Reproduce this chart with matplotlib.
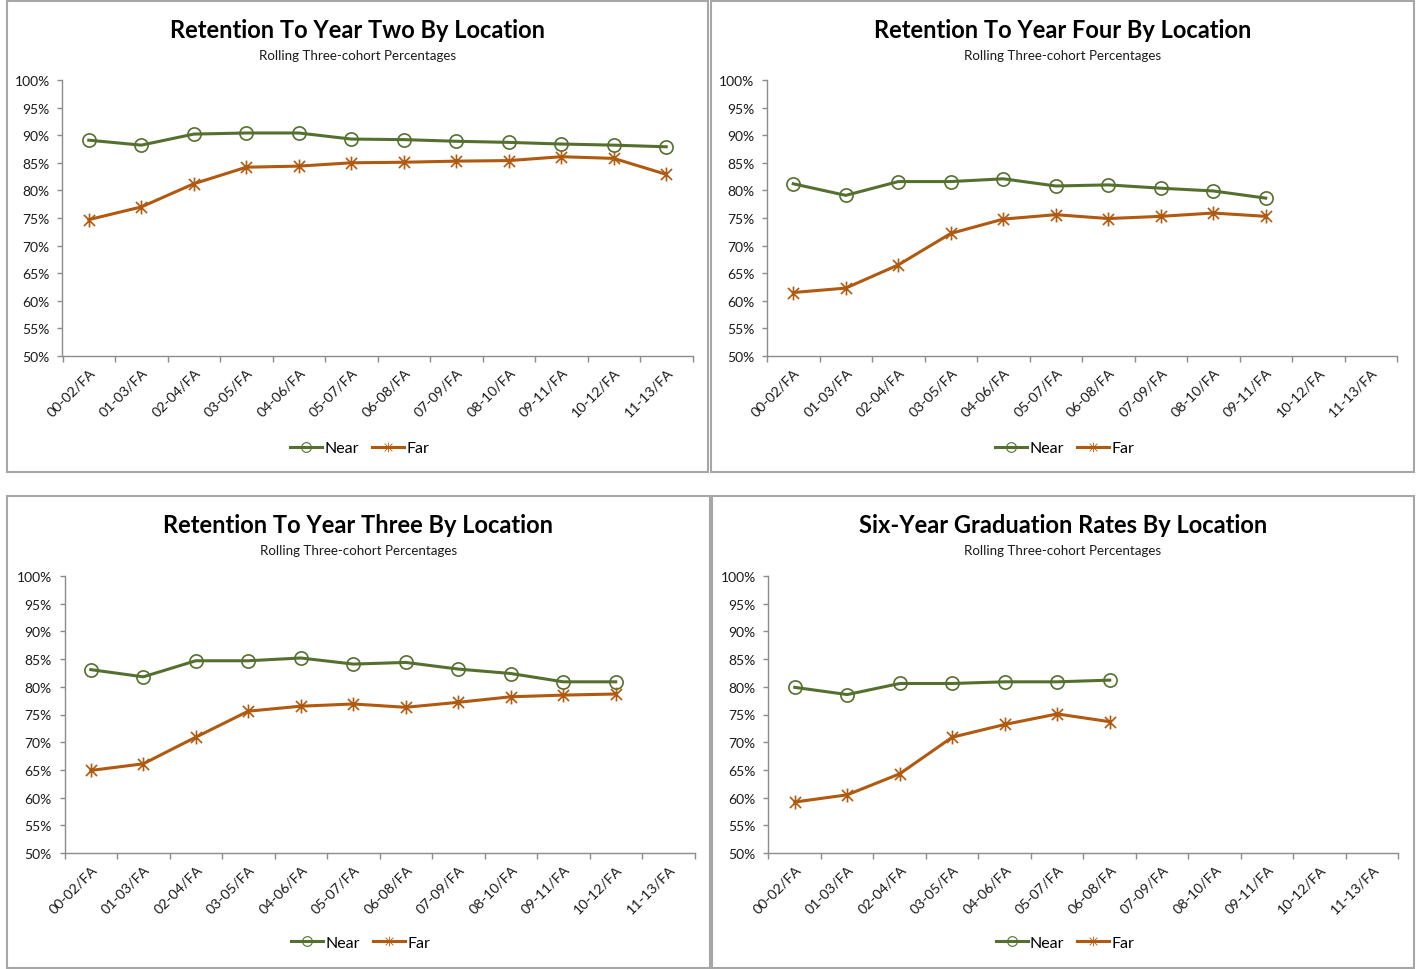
import matplotlib
matplotlib.use("Agg")
import matplotlib.pyplot as plt
from matplotlib.path import Path
from matplotlib.lines import Line2D
from matplotlib.patches import Rectangle
import numpy as np

plt.rcParams['font.family'] = ['Lato', 'DejaVu Sans']

categories = ["00-02/FA", "01-03/FA", "02-04/FA", "03-05/FA", "04-06/FA", "05-07/FA",
              "06-08/FA", "07-09/FA", "08-10/FA", "09-11/FA", "10-12/FA", "11-13/FA"]

yr2_near = [89.1, 88.2, 90.2, 90.4, 90.4, 89.3, 89.2, 88.9, 88.7, 88.4, 88.2, 87.9]
yr2_far = [74.7, 77.0, 81.2, 84.2, 84.4, 85.0, 85.1, 85.3, 85.4, 86.1, 85.8, 82.9]

yr4_near = [81.2, 79.1, 81.6, 81.6, 82.1, 80.8, 81.0, 80.4, 79.9, 78.6]
yr4_far = [61.5, 62.3, 66.5, 72.2, 74.8, 75.6, 74.9, 75.3, 75.9, 75.3]

yr3_near = [83.1, 81.8, 84.7, 84.7, 85.2, 84.1, 84.4, 83.2, 82.4, 80.9, 80.9]
yr3_far = [64.9, 66.1, 70.9, 75.6, 76.5, 76.9, 76.3, 77.2, 78.2, 78.5, 78.7]

grad_near = [79.9, 78.6, 80.6, 80.6, 80.9, 80.9, 81.2]
grad_far = [59.2, 60.5, 64.3, 70.9, 73.2, 75.1, 73.7]

titles = ["Retention To Year Two By Location", "Retention To Year Four By Location",
          "Retention To Year Three By Location", "Six-Year Graduation Rates By Location"]
subtitle = "Rolling Three-cohort Percentages"
series_names = ["Near", "Far"]

GREEN = "#55702E"
ORANGE = "#B0590F"
AXIS = "#8C8C8C"
BORDER = "#A6A6A6"

W, H = 1419, 970
fig = plt.figure(figsize=(W / 100, H / 100), dpi=100)

# star marker: vertical line + X
star = Path([(0, -1), (0, 1), (-0.8, -0.8), (0.8, 0.8), (-0.8, 0.8), (0.8, -0.8)],
            [Path.MOVETO, Path.LINETO, Path.MOVETO, Path.LINETO, Path.MOVETO, Path.LINETO])

def fx(px):
    return px / W

def fy(py):
    return 1 - py / H

panels = [
    # border (x0,y0,x1,y1), axes (left,top,right,bottom), data
    ((7, 2, 708, 473), (62.5, 81, 692.5, 357), yr2_near, yr2_far, titles[0]),
    ((711, 2, 1414, 473), (767, 81, 1397, 357), yr4_near, yr4_far, titles[1]),
    ((7, 497, 710, 969), (64.5, 577, 694.5, 854), yr3_near, yr3_far, titles[2]),
    ((712, 497, 1414, 969), (768.5, 577, 1398.5, 854), grad_near, grad_far, titles[3]),
]

for (bx0, by0, bx1, by1), (l, t, r, b), near, far, title in panels:
    fig.patches.append(Rectangle((fx(bx0), fy(by1)), fx(bx1 - bx0), (by1 - by0) / H,
                                 transform=fig.transFigure, fill=False,
                                 edgecolor=BORDER, linewidth=1.5))
    ax = fig.add_axes([fx(l), fy(b), fx(r - l), (b - t) / H])
    x = np.arange(len(categories))
    ax.plot(np.arange(len(near)), near, color=GREEN, lw=2.2, marker='o', ms=9.5,
            mfc='none', mec=GREEN, mew=1.2, zorder=3)
    ax.plot(np.arange(len(far)), far, color=ORANGE, lw=2.2, marker=star, ms=10,
            mec=ORANGE, mew=1.2, zorder=3)
    ax.set_xlim(-0.5, len(categories) - 0.5)
    ax.set_ylim(50, 100)
    ax.set_yticks(np.arange(50, 101, 5))
    ax.set_yticklabels([f"{v}%" for v in range(50, 101, 5)], fontsize=10, color="#1a1a1a")
    ax.set_xticks(x)
    ax.set_xticklabels(categories, rotation=45, ha='right', va='top', fontsize=10.3,
                       color="#1a1a1a", rotation_mode='anchor')
    ax.set_xticks(np.arange(-0.5, len(categories), 1), minor=True)
    ax.tick_params(axis='x', which='major', length=0, pad=7)
    ax.tick_params(axis='x', which='minor', length=4.3, color=AXIS, width=1)
    ax.tick_params(axis='y', length=3.6, color=AXIS, width=1, pad=5.5)
    for s in ['top', 'right']:
        ax.spines[s].set_visible(False)
    for s in ['left', 'bottom']:
        ax.spines[s].set_color(AXIS)
        ax.spines[s].set_linewidth(1)
    cx = (bx0 + bx1) / 2
    fig.text(fx(cx), fy(by0 + 29), title, ha='center', va='center', fontsize=17,
             fontweight='bold', color='black')
    fig.text(fx(cx), fy(by0 + 54), subtitle, ha='center', va='center', fontsize=9.6,
             color='#1a1a1a')
    handles = [Line2D([], [], color=GREEN, lw=2.2, marker='o', ms=7, mfc='none', mec=GREEN, mew=0.8),
               Line2D([], [], color=ORANGE, lw=2.2, marker=star, ms=7, mec=ORANGE, mew=0.6)]
    fig.legend(handles, series_names, loc='center', bbox_to_anchor=(fx(cx + 2), fy(by0 + 447)),
               ncol=2, frameon=False, fontsize=11.5, handlelength=2.0, handletextpad=0.15,
               columnspacing=0.8)

fig.savefig("out.png", dpi=100)
